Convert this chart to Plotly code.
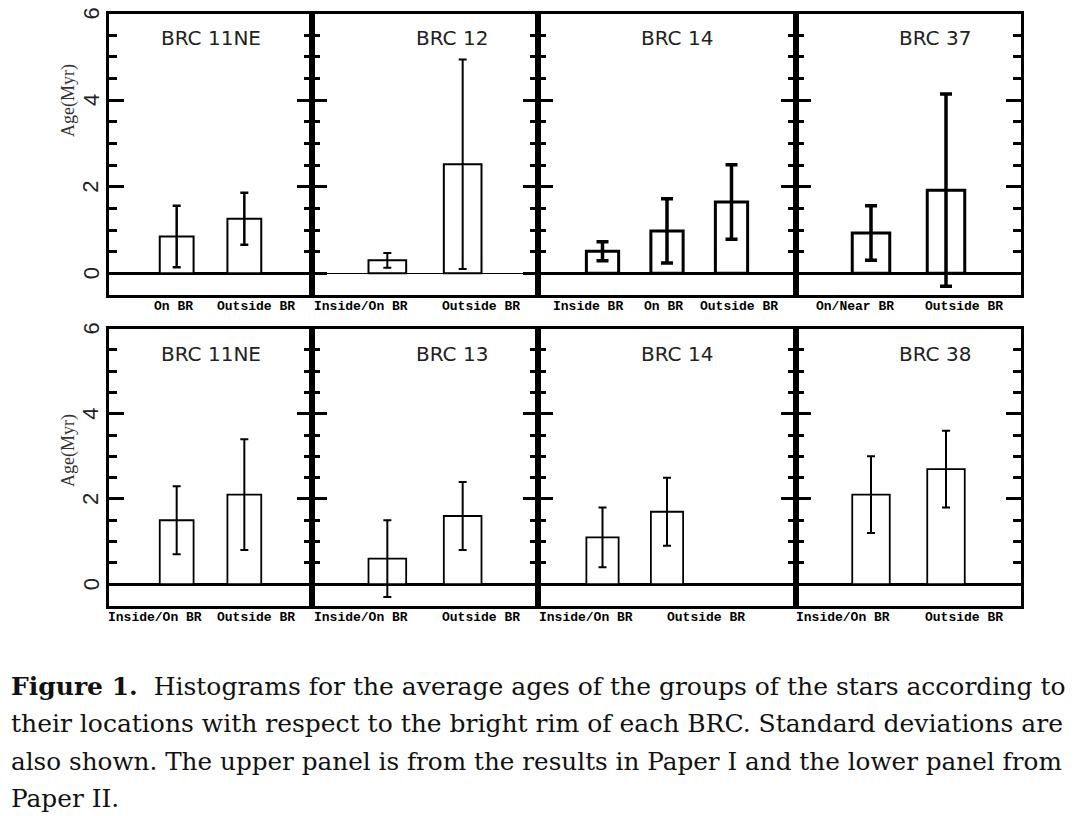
import plotly.graph_objects as go

# ---------------- data ----------------
top_titles = ["BRC 11NE", "BRC 12", "BRC 14", "BRC 37"]
top_labels = [["On BR", "Outside BR"],
              ["Inside/On BR", "Outside BR"],
              ["Inside BR", "On BR", "Outside BR"],
              ["On/Near BR", "Outside BR"]]
top_ages = [[0.85, 1.26], [0.30, 2.52], [0.51, 0.98, 1.65], [0.93, 1.92]]
top_sd = [[0.71, 0.60], [0.17, 2.42], [0.22, 0.74, 0.86], [0.63, 2.22]]

bottom_titles = ["BRC 11NE", "BRC 13", "BRC 14", "BRC 38"]
bottom_labels = [["Inside/On BR", "Outside BR"],
                 ["Inside/On BR", "Outside BR"],
                 ["Inside/On BR", "Outside BR"],
                 ["Inside/On BR", "Outside BR"]]
bottom_ages = [[1.5, 2.1], [0.6, 1.6], [1.1, 1.7], [2.1, 2.7]]
bottom_sd = [[0.8, 1.3], [0.9, 0.8], [0.7, 0.8], [0.9, 0.9]]

y_tick_values = [0, 2, 4, 6]
y_title = "Age(Myr)"

caption_lines = [
    "<b>Figure 1.</b>  Histograms for the average ages of the groups of the stars according to",
    "their locations with respect to the bright rim of each BRC. Standard deviations are",
    "also shown. The upper panel is from the results in Paper I and the lower panel from",
    "Paper II.",
]

# ---------------- layout helpers (pixels) ----------------
W, H = 1075, 816
col_edges = [109, 312, 538, 796, 1021]
row_edges = [(13.5, 295), (328.5, 605.5)]
x_ranges = [[0, 3], [0, 3], [0, 4], [0, 3]]
top_label_x = [[0.96, 2.17], [0.65, 2.24], [0.78, 1.94, 3.12], [0.79, 2.24]]
bottom_label_x = [[0.68, 2.17], [0.65, 2.24], [0.74, 2.6], [0.63, 2.24]]
title_px = [210.5, 452, 677, 934.5]
title_y_px = [38, 354]
label_y_px = [306, 617]
cap_y = [686, 723, 761, 798]
cap_size = [25.0, 25.0, 24.7, 24.8]

# styles per panel
top_bar_lw = [2, 2, 3, 3]
top_err_lw = [2.5, 2, 3.5, 3.5]
top_err_w = [4, 4, 6, 6]
top_zero_w = [2.5, 1, 2.5, 2.5]


def px(x):
    return x / W


def py(y):
    return 1 - y / H


fig = go.Figure()
annotations = []

rows = [
    (top_titles, top_labels, top_ages, top_sd, top_label_x),
    (bottom_titles, bottom_labels, bottom_ages, bottom_sd, bottom_label_x),
]

k = 0
for r, (titles, labels, ages, sds, lab_x) in enumerate(rows):
    for c in range(4):
        k += 1
        xa = "x" if k == 1 else f"x{k}"
        ya = "y" if k == 1 else f"y{k}"
        positions = list(range(1, len(ages[c]) + 1))
        if r == 0:
            blw, elw, ew, zw = top_bar_lw[c], top_err_lw[c], top_err_w[c], top_zero_w[c]
        else:
            blw, elw, ew, zw = 1.8, 2, 4, 3
        fig.add_trace(go.Bar(
            x=positions, y=ages[c], width=0.5,
            marker=dict(color="white", line=dict(color="black", width=blw)),
            error_y=dict(type="data", array=sds[c], color="black",
                         thickness=elw, width=ew),
            xaxis=xa, yaxis=ya, showlegend=False, hoverinfo="skip",
        ))
        y0p, y1p = row_edges[r]
        xdom = [px(col_edges[c]), px(col_edges[c + 1])]
        ydom = [py(y1p), py(y0p)]
        fig.update_layout(**{
            ("xaxis" if k == 1 else f"xaxis{k}"): dict(
                domain=xdom, range=x_ranges[c], anchor=ya,
                showline=True, linewidth=3, linecolor="black", mirror=True,
                showticklabels=False, ticks="", showgrid=False, zeroline=False,
                fixedrange=True),
            ("yaxis" if k == 1 else f"yaxis{k}"): dict(
                domain=ydom, range=[-0.5, 6], anchor=xa,
                showline=True, linewidth=3, linecolor="black", mirror="ticks",
                ticks="inside", ticklen=15, tickwidth=3, tickcolor="black",
                tick0=0, dtick=2, showticklabels=False, showgrid=False,
                zeroline=True, zerolinecolor="black", zerolinewidth=zw,
                minor=dict(ticks="inside", ticklen=8, tickwidth=3,
                           tickcolor="black", dtick=0.5, tick0=0, showgrid=False),
                fixedrange=True),
        })
        # panel title
        annotations.append(dict(
            text=titles[c], x=px(title_px[c]), y=py(title_y_px[r]),
            xref="paper", yref="paper", showarrow=False,
            xanchor="center", yanchor="middle",
            font=dict(family="DejaVu Sans", size=20, color="#222")))
        # category labels
        for lab, lx in zip(labels[c], lab_x[c]):
            annotations.append(dict(
                text=f"<b>{lab}</b>", x=lx, y=py(label_y_px[r]),
                xref=xa, yref="paper", showarrow=False,
                xanchor="center", yanchor="middle",
                font=dict(family="Liberation Mono", size=13, color="black")))
        # y tick labels and title on first column
        if c == 0:
            for v in y_tick_values:
                annotations.append(dict(
                    text=str(v), x=px(91), y=v, xref="paper", yref=ya,
                    showarrow=False, textangle=-90,
                    xanchor="center", yanchor="middle",
                    font=dict(family="Liberation Sans", size=22, color="#222")))
            annotations.append(dict(
                text=y_title, x=px(68), y=py(101 if r == 0 else 451),
                xref="paper", yref="paper", showarrow=False, textangle=-90,
                xanchor="center", yanchor="middle",
                font=dict(family="Liberation Serif", size=18, color="#333")))

# caption
for line, yy, sz in zip(caption_lines, cap_y, cap_size):
    annotations.append(dict(
        text=line, x=px(9), y=py(yy), xref="paper", yref="paper",
        showarrow=False, xanchor="left", yanchor="middle",
        font=dict(family="DejaVu Serif", size=sz, color="#111")))

fig.update_layout(
    width=W, height=H, margin=dict(l=0, r=0, t=0, b=0),
    paper_bgcolor="white", plot_bgcolor="white",
    showlegend=False, bargap=0, annotations=annotations,
)

fig.write_html(
    "out.html",
    config={"displayModeBar": False, "staticPlot": True},
    post_script="document.body.style.margin='0';document.body.style.overflow='hidden';",
)
